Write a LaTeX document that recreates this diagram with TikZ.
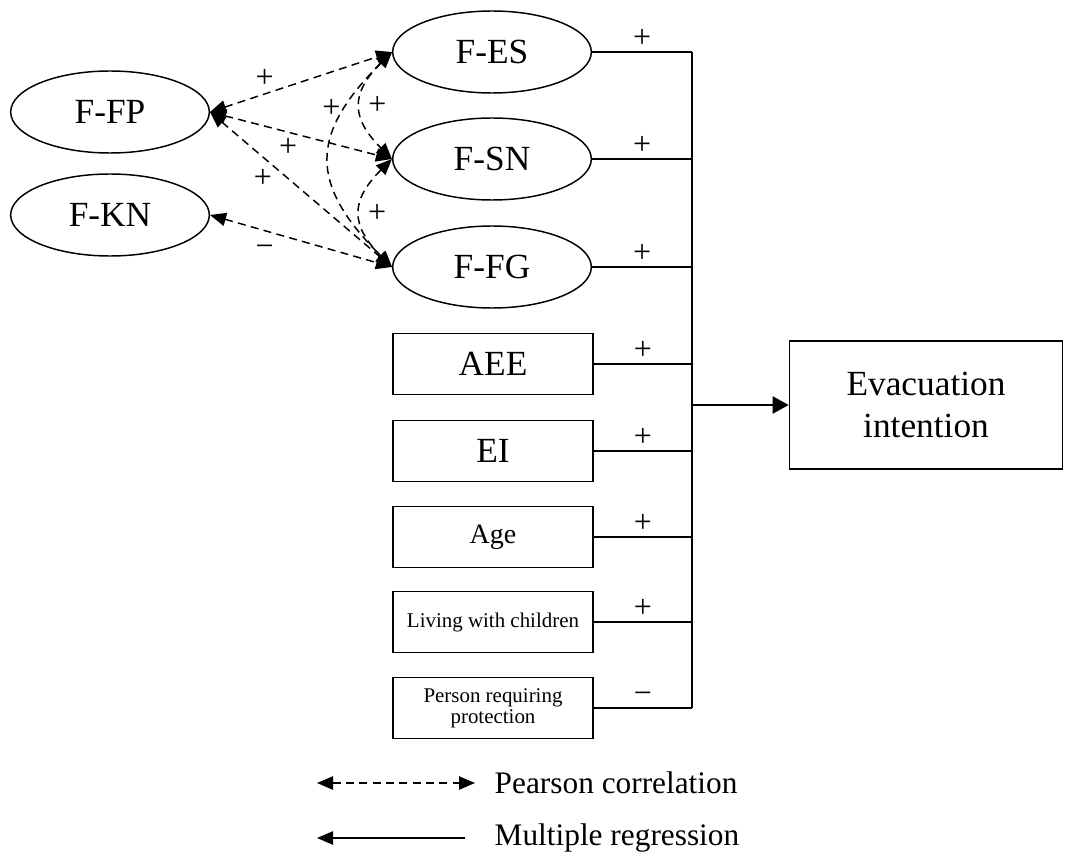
\documentclass[tikz,border=0pt]{standalone}
\usepackage{fontspec}
\setmainfont{Liberation Serif}
\usetikzlibrary{positioning, shapes.geometric, arrows.meta, calc}
\tikzset{
	bigtext/.style={font=\fontsize{26.5}{31}\selectfont},
	midtext/.style={font=\fontsize{21}{24}\selectfont},
	legendtext/.style={font=\fontsize{23.5}{26}\selectfont},
	smalltext/.style={font=\fontsize{15.7}{16}\selectfont},
	signtext/.style={font=\fontsize{24}{24}\selectfont, inner sep=1pt}
}
\tikzset{
	factornode/.style={draw, ellipse, line width=1.1pt, minimum width=149pt, minimum height=61.5pt, inner sep=0pt, bigtext},
	varbox/.style={draw, rectangle, line width=1.1pt, minimum width=150pt, minimum height=45.75pt, inner sep=1pt, align=center}
}
\tikzset{
	corrline/.style={line width=1.1pt, dash pattern=on 6pt off 4pt, {Triangle[length=12pt, width=10pt]}-{Triangle[length=12pt, width=10pt]}},
	regline/.style={line width=1.1pt}
}

\begin{document}
\begin{tikzpicture}[x=0.75pt, y=-0.75pt]

	\useasboundingbox (0,0) rectangle (1067,859);

	% factors
	\node[factornode] (FP) at (110,112) {F-FP};
	\node[factornode] (KN) at (110,215) {F-KN};
	\node[factornode] (ES) at (492,52) {F-ES};
	\node[factornode] (SN) at (492,159) {F-SN};
	\node[factornode] (FG) at (492,267) {F-FG};

	% other variables
	\node[varbox, bigtext] (AEE) at (493,364) {AEE};
	\node[varbox, bigtext] (EI) at (493,451) {EI};
	\node[varbox, midtext] (AG) at (493,537) {Age};
	\node[varbox, smalltext] (LC) at (493,622) {Living with children};
	\node[varbox, smalltext] (PR) at (493,708) {Person requiring\\protection};

	\node[draw, line width=1.1pt, minimum width=205pt, minimum height=96pt, align=center, bigtext] (EV) at (926,405) {Evacuation\\intention};

	% regression
	\coordinate (bus) at (692,0);
	\foreach \n/\s in {ES/+, SN/+, FG/+, AEE/+, EI/+, AG/+, LC/+, PR/−}
		\draw[regline] (\n.east) -- node[signtext, above=2pt] {\s} (\n.east -| bus);
	\draw[regline] (ES.east -| bus) -- (PR.east -| bus);
	\draw[regline, -{Triangle[length=12pt, width=13pt]}] (bus |- EV.west) -- (EV.west);

	% correlations
	\draw[corrline] (FP.east) -- node[signtext, pos=0.3, above=3pt] {+} (ES.west);
	\draw[corrline] (FP.east) -- node[signtext, pos=0.43, below=3pt] {+} (SN.west);
	\draw[corrline] (FP.east) -- node[signtext, pos=0.29, below=8pt] {+} (FG.west);
	\draw[corrline] (KN.east) -- node[signtext, pos=0.3, below=9pt] {−} (FG.west);
	\draw[corrline] (ES.west) to[bend right=45, looseness=1.4] node[signtext, pos=0.25, left=2pt] {+} (FG.west);
	\draw[corrline] (ES.west) to[bend right=45, looseness=1.4] node[signtext, right=4pt] {+} (SN.west);
	\draw[corrline] (SN.west) to[bend right=45, looseness=1.4] node[signtext, right=4pt] {+} (FG.west);

	% legend
	\coordinate (pcA) at (317,783);
	\coordinate (pcB) at (475,783);
	\coordinate (mrA) at (317,838);
	\coordinate (mrB) at (465,838);
	\draw[corrline] (pcA) -- (pcB);
	\draw[regline, {Triangle[length=12pt, width=10pt]}-] (mrA) -- (mrB);
	\node[legendtext, anchor=west] (pcT) at (490,783) {Pearson correlation};
	\node[legendtext, anchor=west] (mrT) at (490,838) {Multiple regression};

\end{tikzpicture}
\end{document}
